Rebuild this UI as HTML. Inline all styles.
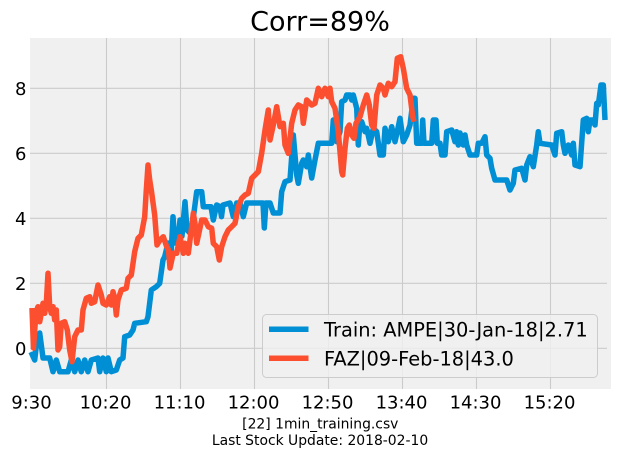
<!DOCTYPE html>
<html>
<head>
<meta charset="utf-8">
<style>
html,body{margin:0;padding:0;background:#ffffff;}
svg{display:block;}
text{font-family:"DejaVu Sans","Liberation Sans",sans-serif;fill:#000;}
</style>
</head>
<body>
<svg width="617" height="458" viewBox="0 0 617 458" xmlns="http://www.w3.org/2000/svg">
  <rect x="0" y="0" width="617" height="458" fill="#ffffff"/>
  <!-- axes background -->
  <rect x="30" y="38" width="581" height="351" fill="#f0f0f0"/>
  <!-- grid -->
  <g stroke="#cbcbcb" stroke-width="1.1">
    <line x1="106.5" y1="38" x2="106.5" y2="389"/>
    <line x1="180.5" y1="38" x2="180.5" y2="389"/>
    <line x1="254.5" y1="38" x2="254.5" y2="389"/>
    <line x1="328.5" y1="38" x2="328.5" y2="389"/>
    <line x1="402.5" y1="38" x2="402.5" y2="389"/>
    <line x1="476.5" y1="38" x2="476.5" y2="389"/>
    <line x1="550.5" y1="38" x2="550.5" y2="389"/>
    <line x1="30" y1="88.3" x2="607" y2="88.3"/>
    <line x1="30" y1="153.3" x2="607" y2="153.3"/>
    <line x1="30" y1="218.3" x2="607" y2="218.3"/>
    <line x1="30" y1="283.3" x2="607" y2="283.3"/>
    <line x1="30" y1="348.3" x2="607" y2="348.3"/>
  </g>
  <!-- blue series -->
  <polyline fill="none" stroke="#008fd5" stroke-width="5.5" stroke-linejoin="round" stroke-linecap="butt"
    points="31,352 34.7,360 37,340 39.7,333 43,358 49.7,358 53,371.7 56.3,360 59.7,371.7 68,371.7 71.3,360 74.7,371.7 78,360 81.3,371.7 84.7,360 88,371.7 91.3,360 98,358 99.7,371.7 103,358 106.3,371.7 108,358 111.3,371.7 116.3,370 119.7,360 123,358 124.7,336.7 129.7,335 133,330 134.7,323.3 146.3,321.7 148,316.7 151.3,290 156.3,286.7 159.7,283.3 163,260 164.7,256.7 168,243 171.3,250 173,216.7 175,243 178,243 180,220 182,236 185,201.7 187,230 190,233 193,220 196.7,191.7 201.7,191.7 203.3,206.7 211,206.7 213.3,220 216.7,205 220,206.7 221.5,216.7 223,205 230,203 233.3,216.7 236.7,203 240,203 243.3,216.7 246.7,203 263,203 264.3,228 266,203 270,203 273.3,213 280,213 281.7,191.7 285,181.7 290,180 293.3,135 296.7,175 298.3,183.3 301.7,163.3 303.3,160 306.7,166.7 308.3,155 311.7,178 315,160 318.3,143.3 331.7,143.3 333.3,120 336.7,141.7 340,131.7 341.7,101.7 345,100 346.7,95 350,95 351.7,100 353.3,95 356.7,108.3 358.3,145 360,121.7 361.7,121.7 365,131.7 366.7,128.3 370,143.3 373.3,128.3 376.7,131.7 380,155 383.3,155 385,128.3 388.3,141.7 391.7,126.7 395,141.7 398.3,126.7 400,118.3 403.3,141.7 406.7,135 410,125 413.3,98.3 415,98.3 416.7,143.3 421.7,143.3 422.7,120 424,143.3 431.7,143.3 433.3,120 436,120 437.3,143.3 440,143.3 441.7,155 445,155 446.7,131.7 451.7,130 455,141.7 456.5,131.7 458.3,145 460,133 463.3,145 465,135 466.7,145 470,155 476.7,155 478.3,143.3 481.7,143.3 485,136.7 486.7,155 490,158.3 491.7,168.3 495,180 506.7,180 510,190 513.3,183.3 515,170 521.7,168.3 525,180 526.7,165 530,156.7 533.3,166.7 536.7,145 538.3,131.7 540,143.3 551.7,145 555,155 556.7,133.3 561.7,131.7 563.3,145 565,153.3 568.3,145 571.7,155 573.3,143.3 575,165 580,166.7 583.3,120 586.7,118.3 588.3,131.7 590,120 593,120 595,125 596.7,103.3 598.3,105 601,85 603.3,85 605,120"/>
  <!-- red series -->
  <polyline fill="none" stroke="#fc4f30" stroke-width="5.5" stroke-linejoin="round" stroke-linecap="butt"
    points="32,308 33.5,348 36,312 38,306.7 39.7,321.7 41.3,313.3 43,303.3 44.7,313.3 46.3,303.3 48,273.3 49.7,306.7 51.3,313.3 53,306.7 54.7,320 56.3,310 58,350 59.7,346.7 61.3,323.3 64.7,321.7 67.3,330 69.7,350 72,361.7 74.7,336.7 78,330 81.3,330 83,310 86.3,298.3 89.7,296.7 91.3,303.3 94.7,301.7 98,285 101.3,295 103,303.3 106.3,305 109.7,296.7 111.3,305 113,291.7 114.7,298.3 116.3,315 118,300 121.3,290 126.3,288.3 128,278.3 131.3,275 134.7,251.7 138,238.3 141.3,235 144.7,216.7 146.3,190 148,165 149.7,180 151.3,190 154.7,215 157,245 160,240 163.3,236.7 166.7,246.7 168.5,250 170,268 173.3,253.3 176.7,253.3 180,236.7 183.3,253.3 185,243.3 188.3,253.3 191.7,226.7 193.3,213.3 195,223.3 196.7,243.3 201.7,220 205,220 208.3,226.7 211.7,228.3 213.3,243.3 216.7,246.7 219.3,260 221.7,246.7 225,236.7 228.3,230 231.7,226.7 235,223.3 238.3,206.7 241.7,198.3 245,195 248.3,193.3 251.7,178.3 255,175 258.3,171.7 261.7,153.3 265,130 268.3,110 270,140 273.3,125 276.7,106.7 280,126.7 283.3,123.3 285,145 288.3,153.3 291.7,123.3 295,110 298.3,105 301.7,106.7 303.3,123.3 306.7,100 311.7,105 315,103.3 318.3,88.3 320,91.7 321.7,96.7 325,88.3 328.3,96.7 330,88.3 331.7,101.7 335,108.3 338.3,131.7 341.7,171.7 342.7,175 345,148.3 347.3,128.3 349.3,125 351.7,135 354,138.3 356,123.3 360,116.7 363.3,105 366.7,95 369.3,105 371.7,125 374,128.3 376.7,95 380,85 383.3,88.3 385,95 388.3,83.3 391.7,86.7 395,81.7 397.3,58.3 400.7,56.7 403.3,68.3 406.7,88.3 410,95 412.7,116.7 414,121.7"/>
  <!-- legend -->
  <rect x="262.5" y="314.5" width="335" height="63" rx="4" ry="4" fill="#f0f0f0" fill-opacity="0.8" stroke="#cccccc" stroke-width="1"/>
  <line x1="269" y1="329.3" x2="308.5" y2="329.3" stroke="#008fd5" stroke-width="5.5"/>
  <line x1="269" y1="358.3" x2="308.5" y2="358.3" stroke="#fc4f30" stroke-width="5.5"/>
  <text x="324" y="336.4" font-size="19.4">Train: AMPE|30-Jan-18|2.71</text>
  <text x="324" y="365.4" font-size="19.4">FAZ|09-Feb-18|43.0</text>
  <!-- y tick labels -->
  <g font-size="18" text-anchor="end">
    <text x="26.5" y="94.8">8</text>
    <text x="26.5" y="159.8">6</text>
    <text x="26.5" y="224.8">4</text>
    <text x="26.5" y="289.8">2</text>
    <text x="26.5" y="354.8">0</text>
  </g>
  <!-- x tick labels -->
  <g font-size="18" text-anchor="middle">
    <text x="31.5" y="408.3">9:30</text>
    <text x="105.5" y="408.3">10:20</text>
    <text x="179.5" y="408.3">11:10</text>
    <text x="253.5" y="408.3">12:00</text>
    <text x="327.5" y="408.3">12:50</text>
    <text x="401.5" y="408.3">13:40</text>
    <text x="475.5" y="408.3">14:30</text>
    <text x="549.5" y="408.3">15:20</text>
  </g>
  <!-- title -->
  <text x="320" y="30.7" font-size="27" text-anchor="middle">Corr=89%</text>
  <!-- footer -->
  <text x="320.3" y="428.5" font-size="13.9" text-anchor="middle">[22] 1min_training.csv</text>
  <text x="320" y="445" font-size="13.9" text-anchor="middle">Last Stock Update: 2018-02-10</text>
</svg>
</body>
</html>
